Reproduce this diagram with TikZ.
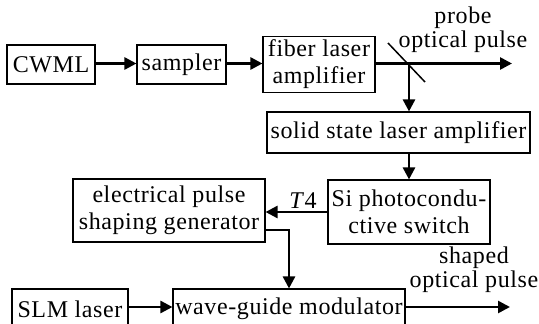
\documentclass[tikz,border=0pt]{standalone}
\usepackage{fontspec}
\setmainfont{Liberation Serif}[LetterSpace=2.5]
\usetikzlibrary{arrows.meta}
\begin{document}
\begin{tikzpicture}[x=1pt,y=-1pt,
  blk/.style={draw,line width=1.1pt,rectangle,inner sep=0pt,align=center,
    font=\fontsize{24}{27}\selectfont},
  conn/.style={line width=2.6pt,-{Triangle[length=12pt,width=12pt]}},
  lbl/.style={align=center,inner sep=0pt,font=\fontsize{24}{24}\selectfont}]
\useasboundingbox (0,0) rectangle (539,324);
\clip (0,0) rectangle (539,324);
\node[blk,minimum width=88pt,minimum height=39pt] (cwml) at (51,64.5) {CWML};
\node[blk,minimum width=89pt,minimum height=39pt] (sampler) at (181.5,64.5) {sampler};
\node[blk,minimum width=112pt,minimum height=56pt] (fiber) at (319,64.5) {fiber laser\\amplifier};
\node[blk,minimum width=263pt,minimum height=41pt] (solid) at (398.5,132.5) {solid state laser amplifier};
\node[blk,minimum width=162pt,minimum height=64pt] (si) at (409,212) {Si photocondu-\\ctive switch};
\node[blk,minimum width=192pt,minimum height=63pt] (elec) at (169,210.5) {electrical pulse\\shaping generator};
\node[blk,minimum width=116pt,minimum height=40pt] (slm) at (70,309) {SLM laser};
\node[blk,minimum width=232pt,minimum height=40pt] (mod) at (289,309) {wave-guide modulator};
\node[lbl] (probe) at (463,30) {probe\\optical pulse};
\node[lbl] (shaped) at (474,270) {shaped\\optical pulse};
\node[lbl,anchor=south] (t4) at (303,209) {\textit{T}4};
\coordinate (out1) at (512,63.5);
\coordinate (out2) at (510,307);
\coordinate (split) at (409,63.5);
\coordinate (mirA) at (388,43);
\coordinate (mirB) at (425,82);
\coordinate (ej) at (265,230);
\draw[conn] (cwml.east |- 0,63.5) -- (sampler.west |- 0,63.5);
\draw[conn] (sampler.east |- 0,63.5) -- (fiber.west |- 0,63.5);
\draw[conn] (fiber.east |- out1) -- (out1);
\draw[line width=1.5pt] (mirA) -- (mirB);
\draw[conn] (split) -- (split |- solid.north);
\draw[conn] (si.north |- solid.south) -- (si.north);
\draw[conn] (si.west) -- (si.west -| elec.east);
\draw[conn] (ej) -| (mod.north);
\draw[conn] (slm.east |- out2) -- (mod.west |- out2);
\draw[conn] (mod.east |- out2) -- (out2);
\end{tikzpicture}
\end{document}
